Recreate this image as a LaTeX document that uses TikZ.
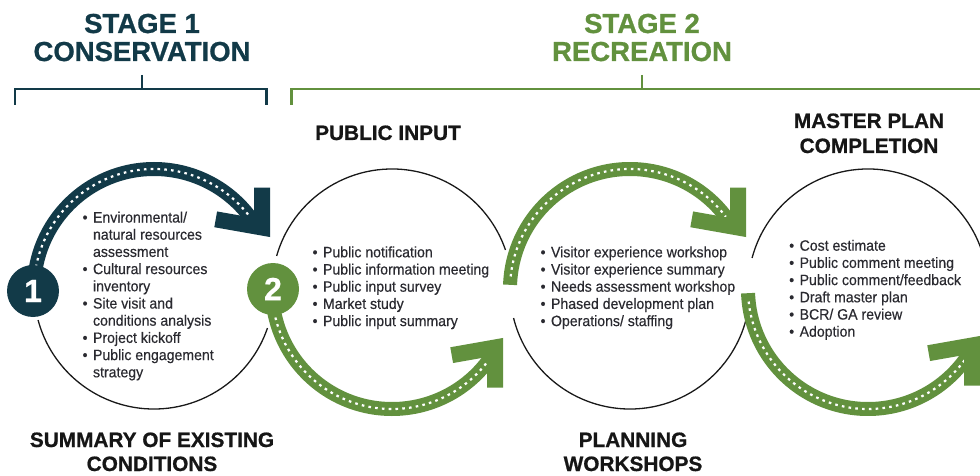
\documentclass[tikz,border=0pt]{standalone}
\usepackage{fontspec}
\setmainfont{Liberation Sans}
\newfontfamily\listfont[FakeStretch=0.94, FakeBold=0.35]{Liberation Sans}
\newfontfamily\heavyfont[BoldFeatures={FakeBold=0.8}]{Liberation Sans}
\usetikzlibrary{calc}
\definecolor{stageteal}{HTML}{123A48}
\definecolor{stagegreen}{HTML}{62913E}
\definecolor{listgray}{HTML}{2A2A30}
\definecolor{titleblack}{HTML}{161616}
\newcommand{\bitem}[1]{\textbullet & #1\\}
\newcommand{\bcont}[1]{& #1\\}
\begin{document}
\begin{tikzpicture}[x=1pt,y=-1pt,
  thinring/.style={line width=1.3pt, draw=black!90},
  band/.style={line width=14pt, line cap=butt},
  dashline/.style={draw=white, line width=2.2pt, dash pattern=on 2.6pt off 4.2pt},
  chevron/.style={line width=16pt, line join=miter, miter limit=10, line cap=butt},
  badge/.style={circle, minimum size=52pt, inner sep=0pt, text=white,
    font=\heavyfont\bfseries\fontsize{32}{32}\selectfont},
  listnode/.style={inner sep=0pt, anchor=base west, text=listgray,
    font=\listfont\fontsize{15}{17.2}\selectfont},
  stagehead/.style={inner sep=0pt, anchor=base, font=\heavyfont\bfseries\fontsize{27.5}{28}\selectfont},
  sectitle/.style={inner sep=0pt, anchor=base, text=titleblack, font=\heavyfont\bfseries\fontsize{20.8}{21}\selectfont},
  bracket/.style={line width=2.5pt, line cap=butt, line join=miter}
]
\useasboundingbox (0,0) rectangle (980,476);
\fill[white] (0,0) rectangle (980,476);
\clip (0,0) rectangle (980,476);

% circle centres
\coordinate (c1) at (154,289);
\coordinate (c2) at (392,289);
\coordinate (c3) at (630,289);
\coordinate (c4) at (868,289);

% thin circle arcs
\draw[thinring] ($(c1)+(19:120)$) arc[start angle=19, end angle=165, radius=120];
\draw[thinring] ($(c2)+(196:120)$) arc[start angle=196, end angle=341, radius=120];
\draw[thinring] ($(c3)+(12:120)$) arc[start angle=12, end angle=166, radius=120];
\draw[thinring] ($(c4)+(195:120)$) arc[start angle=195, end angle=345, radius=120];

% arrow 1 (teal)
\draw[band, stageteal] ($(c1)+(180:120)$) arc[start angle=180, end angle=328, radius=120];
\draw[dashline] ($(c1)+(184:120)$) arc[start angle=184, end angle=323, radius=120];
\coordinate (h1) at (262,227.5);
\draw[chevron, stageteal] ($(h1)+(190:47)$) -- (h1) -- ($(h1)+(270:40)$);

% arrow 2 (green)
\draw[band, stagegreen] ($(c2)+(180:120)$) arc[start angle=180, end angle=32, radius=120];
\draw[dashline] ($(c2)+(176:120)$) arc[start angle=176, end angle=36, radius=120];
\coordinate (h2) at (495,347.5);
\draw[chevron, stagegreen] ($(h2)+(170:44)$) -- (h2) -- ($(h2)+(90:40)$);

% arrow 3 (green)
\draw[band, stagegreen] ($(c3)+(182:120)$) arc[start angle=182, end angle=328, radius=120];
\draw[dashline] ($(c3)+(186:120)$) arc[start angle=186, end angle=323, radius=120];
\coordinate (h3) at (738,227.5);
\draw[chevron, stagegreen] ($(h3)+(190:47)$) -- (h3) -- ($(h3)+(270:40)$);

% arrow 4 (green)
\draw[band, stagegreen] ($(c4)+(178:120)$) arc[start angle=178, end angle=32, radius=120];
\draw[dashline] ($(c4)+(174:120)$) arc[start angle=174, end angle=36, radius=120];
\coordinate (h4) at (972,345.5);
\draw[chevron, stagegreen] ($(h4)+(170:44)$) -- (h4) -- ($(h4)+(90:40)$);

% badges
\node[badge, fill=stageteal] (b1) at (33,291) {1};
\node[badge, fill=stagegreen] (b2) at (273,289) {2};

% stage headings and brackets
\node[stagehead, text=stageteal] (s1a) at (142,33) {STAGE 1};
\node[stagehead, text=stageteal] (s1b) at (142,61) {CONSERVATION};
\node[stagehead, text=stagegreen] (s2a) at (642,33) {STAGE 2};
\node[stagehead, text=stagegreen] (s2b) at (642,61) {RECREATION};
\coordinate (k1) at (142,75);
\coordinate (k2) at (642,75);
\draw[bracket, stageteal] (15,105) -- (15,89) -- (266.7,89) -- (266.7,105);
\draw[bracket, stageteal] (k1) -- (k1 |- 0,89);
\draw[bracket, stagegreen] (291.7,105) -- (291.7,89) -- (990,89);
\draw[bracket, stagegreen] (k2) -- (k2 |- 0,89);

% section titles
\node[sectitle] (t1) at (388,140) {PUBLIC INPUT};
\node[sectitle] (t2a) at (869,128) {MASTER PLAN};
\node[sectitle] (t2b) at (869,153) {COMPLETION};
\node[sectitle] (t3a) at (152,447) {SUMMARY OF EXISTING};
\node[sectitle] (t3b) at (152,471) {CONDITIONS};
\node[sectitle] (t4a) at (633,447) {PLANNING};
\node[sectitle] (t4b) at (633,471) {WORKSHOPS};

% lists
\node[listnode] (l1) at (82.4,222.5) {\begin{tabular}[t]{@{}l@{\hspace{5.5pt}}l@{}}
\bitem{Environmental/}
\bcont{natural resources}
\bcont{assessment}
\bitem{Cultural resources}
\bcont{inventory}
\bitem{Site visit and}
\bcont{conditions analysis}
\bitem{Project kickoff}
\bitem{Public engagement}
\bcont{strategy}
\end{tabular}};
\node[listnode] (l2) at (312.4,257.3) {\begin{tabular}[t]{@{}l@{\hspace{5.5pt}}l@{}}
\bitem{Public notification}
\bitem{Public information meeting}
\bitem{Public input survey}
\bitem{Market study}
\bitem{Public input summary}
\end{tabular}};
\node[listnode] (l3) at (540.4,257.3) {\begin{tabular}[t]{@{}l@{\hspace{5.5pt}}l@{}}
\bitem{Visitor experience workshop}
\bitem{Visitor experience summary}
\bitem{Needs assessment workshop}
\bitem{Phased development plan}
\bitem{Operations/ staffing}
\end{tabular}};
\node[listnode] (l4) at (789,250.7) {\begin{tabular}[t]{@{}l@{\hspace{5.5pt}}l@{}}
\bitem{Cost estimate}
\bitem{Public comment meeting}
\bitem{Public comment/feedback}
\bitem{Draft master plan}
\bitem{BCR/ GA review}
\bitem{Adoption}
\end{tabular}};
\end{tikzpicture}
\end{document}
